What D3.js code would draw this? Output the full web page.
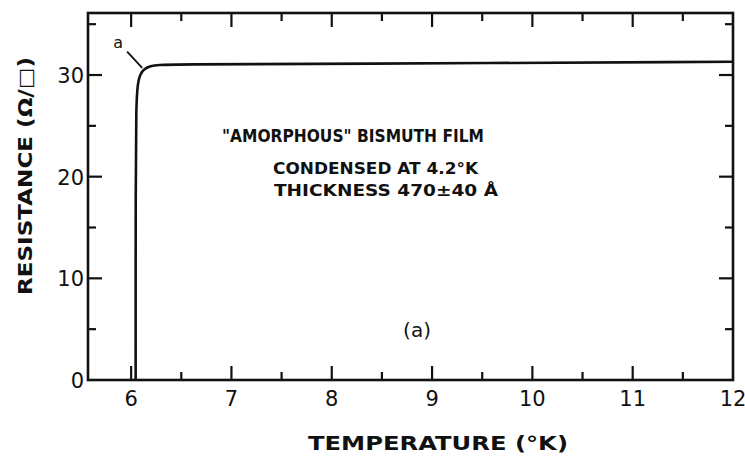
<!DOCTYPE html>
<html>
<head>
<meta charset="utf-8">
<script src="https://cdn.jsdelivr.net/npm/d3@7"></script>
<style>
  body { margin: 0; background: #fff; }
  text { font-family: "DejaVu Sans", sans-serif; fill: #111; }
</style>
</head>
<body>
<div id="chart"></div>
<script>
// resistance vs temperature of the film
var temps = [6.045, 6.045, 6.05, 6.065, 6.09, 6.13, 6.19, 6.28, 6.4, 8, 12];
var resist = [0, 20, 27, 29.2, 30.1, 30.6, 30.9, 31.0, 31.05, 31.1, 31.3];

var xMajor = [6, 7, 8, 9, 10, 11, 12];
var xMinor = [6.5, 7.5, 8.5, 9.5, 10.5, 11.5];
var yMajor = [0, 10, 20, 30];
var yMinor = [5, 15, 25, 35];

var width = 745, height = 458;
var margin = {top: 13, right: 12, bottom: 78, left: 88};

var svg = d3.select('#chart')
  .append('svg')
  .attr('width', width)
  .attr('height', height);

var x = d3.scaleLinear()
  .domain([5.57, 12])
  .range([margin.left, width - margin.right]);

var y = d3.scaleLinear()
  .domain([0, 36.1])
  .range([height - margin.bottom, margin.top]);

var x0 = x.range()[0], x1 = x.range()[1];
var y0 = y.range()[0], y1 = y.range()[1];

// ticks pointing inwards on every side
var ticks = svg.append('g').attr('stroke', '#111').attr('stroke-width', 2.2);
function xTicks(vals, len) {
  vals.forEach(function(v) {
    ticks.append('line').attr('x1', x(v)).attr('x2', x(v)).attr('y1', y0).attr('y2', y0 - len);
    ticks.append('line').attr('x1', x(v)).attr('x2', x(v)).attr('y1', y1).attr('y2', y1 + len);
  });
}
function yTicks(vals, len) {
  vals.forEach(function(v) {
    ticks.append('line').attr('y1', y(v)).attr('y2', y(v)).attr('x1', x0).attr('x2', x0 + len);
    ticks.append('line').attr('y1', y(v)).attr('y2', y(v)).attr('x1', x1).attr('x2', x1 - len);
  });
}
xTicks(xMajor.filter(function(v){ return v < 12; }), 14);
xTicks(xMinor, 8);
yTicks(yMajor.filter(function(v){ return v > 0; }), 14);
yTicks(yMinor, 8);

// frame
svg.append('rect')
  .attr('x', x0).attr('y', y1)
  .attr('width', x1 - x0).attr('height', y0 - y1)
  .attr('fill', 'none')
  .attr('stroke', '#111')
  .attr('stroke-width', 2.6);

// tick labels
svg.append('g').selectAll('text')
  .data(xMajor)
  .enter().append('text')
  .attr('x', function(d){ return x(d); })
  .attr('y', y0 + 26)
  .attr('text-anchor', 'middle')
  .attr('font-size', 21)
  .text(function(d){ return d; });

svg.append('g').selectAll('text')
  .data(yMajor)
  .enter().append('text')
  .attr('x', x0 - 4)
  .attr('y', function(d){ return y(d) + 8; })
  .attr('text-anchor', 'end')
  .attr('font-size', 21)
  .text(function(d){ return d; });

// axis titles
svg.append('text')
  .attr('x', 308).attr('y', 450)
  .attr('textLength', 260)
  .attr('lengthAdjust', 'spacingAndGlyphs')
  .attr('font-size', 19)
  .attr('font-weight', 'bold')
  .text('TEMPERATURE (°K)');

svg.append('text')
  .attr('transform', 'translate(32,295) rotate(-90)')
  .attr('textLength', 238)
  .attr('lengthAdjust', 'spacingAndGlyphs')
  .attr('font-size', 19)
  .attr('font-weight', 'bold')
  .text('RESISTANCE (Ω/□)');

// the curve
var line = d3.line()
  .x(function(d){ return x(d[0]); })
  .y(function(d){ return y(d[1]); })
  .curve(d3.curveBasis);

svg.append('path')
  .datum(d3.zip(temps, resist))
  .attr('d', line)
  .attr('fill', 'none')
  .attr('stroke', '#111')
  .attr('stroke-width', 2.6);

// "a" marker with leader
svg.append('text')
  .attr('x', x(5.87)).attr('y', y(32.7))
  .attr('text-anchor', 'middle')
  .attr('font-size', 16)
  .text('a');
svg.append('line')
  .attr('x1', x(5.96)).attr('y1', y(32.3))
  .attr('x2', x(6.11)).attr('y2', y(30.7))
  .attr('stroke', '#111')
  .attr('stroke-width', 1.8);

// annotation block
svg.append('text')
  .attr('x', 222).attr('y', 142)
  .attr('textLength', 262)
  .attr('lengthAdjust', 'spacingAndGlyphs')
  .attr('font-size', 17)
  .attr('font-weight', 'bold')
  .text('"AMORPHOUS" BISMUTH FILM');

svg.append('text')
  .attr('x', 273).attr('y', 174)
  .attr('textLength', 205)
  .attr('lengthAdjust', 'spacingAndGlyphs')
  .attr('font-size', 15)
  .attr('font-weight', 'bold')
  .text('CONDENSED AT 4.2°K');

svg.append('text')
  .attr('x', 274).attr('y', 196)
  .attr('textLength', 224)
  .attr('lengthAdjust', 'spacingAndGlyphs')
  .attr('font-size', 15)
  .attr('font-weight', 'bold')
  .text('THICKNESS 470±40 Å');

svg.append('text')
  .attr('x', x(8.85)).attr('y', y(4.2))
  .attr('text-anchor', 'middle')
  .attr('font-size', 20)
  .text('(a)');
</script>
</body>
</html>
